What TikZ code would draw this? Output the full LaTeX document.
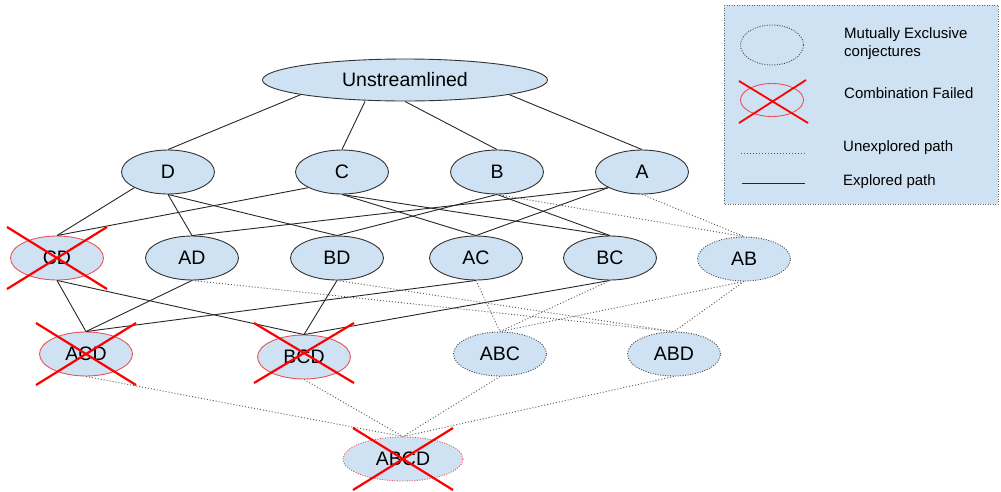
\documentclass[tikz,border=0pt]{standalone}
\usepackage{fontspec}
\setmainfont{Liberation Sans}
\usetikzlibrary{shapes.geometric}
\definecolor{setblue}{HTML}{CFE2F3}
\definecolor{failred}{HTML}{E8535A}
\begin{document}
\begin{tikzpicture}[x=1pt, y=-1pt,
  set/.style={ellipse, draw=black!80, fill=setblue, line width=0.9pt, minimum width=93pt, minimum height=44pt, inner sep=0pt, font=\fontsize{19.5}{22}\selectfont},
  open/.style={set, draw=black!70, dash pattern=on 1pt off 1.5pt},
  failed/.style={set, draw=failred},
  done/.style={black!85, line width=0.9pt},
  todo/.style={black!65, line width=0.9pt, dash pattern=on 1pt off 2pt},
  cross/.style={red, line width=2.2pt},
  legtext/.style={anchor=west, align=left, inner sep=0pt, font=\fontsize{15}{18}\selectfont}]
\useasboundingbox (0,0) rectangle (1001,491);
\node[set, minimum width=285pt, minimum height=42pt] (U) at (405,80) {Unstreamlined};
\node[set] (D) at (168,172) {D};
\node[set] (C) at (342,172) {C};
\node[set] (B) at (497,172) {B};
\node[set] (A) at (642,172) {A};
\node[failed] (CD) at (57,258) {CD};
\node[set] (AD) at (192,258) {AD};
\node[set] (BD) at (337,258) {BD};
\node[set] (AC) at (476,258) {AC};
\node[set] (BC) at (610,258) {BC};
\node[open] (AB) at (744,259) {AB};
\node[failed] (ACD) at (86,354) {ACD};
\node[failed] (BCD) at (304,357) {BCD};
\node[open] (ABC) at (500,354) {ABC};
\node[open] (ABD) at (674,354) {ABD};
\node[failed, dash pattern=on 1pt off 1.5pt, minimum width=120pt] (ABCD) at (403,459) {ABCD};
\draw[done] (U.-172) -- (D.north);
\draw[done] ([xshift=-40pt]U.south) -- (C.north);
\draw[done] (U.south) -- (B.north);
\draw[done] (U.-8) -- (A.north);
\draw[done] (D.-155) -- (CD.north);
\draw[done] (D.south) -- (AD.north);
\draw[done] (D.south) -- (BD.north);
\draw[done] (C.-155) -- (CD.north);
\draw[done] (C.south) -- (AC.north);
\draw[done] (C.south) -- (BC.north);
\draw[done] (B.south) -- (BD.north);
\draw[done] (B.south) -- (BC.north);
\draw[done] (A.-155) -- (AD.north);
\draw[done] (A.-155) -- (AC.north);
\draw[todo] (B.south) -- (AB.north);
\draw[todo] (A.south) -- (AB.north);
\draw[done] (CD.south) -- (ACD.north);
\draw[done] (AD.south) -- (ACD.north);
\draw[done] (AC.south) -- (ACD.north);
\draw[done] (CD.south) -- (BCD.north);
\draw[done] (BD.south) -- (BCD.north);
\draw[done] (BC.south) -- (BCD.north);
\draw[todo] (AC.south) -- (ABC.north);
\draw[todo] (BC.south) -- (ABC.north);
\draw[todo] (AB.south) -- (ABC.north);
\draw[todo] (AD.south) -- (ABD.north);
\draw[todo] (BD.south) -- (ABD.north);
\draw[todo] (AB.south) -- (ABD.north);
\draw[todo] (ACD.south) -- (ABCD.north);
\draw[todo] (BCD.south) -- (ABCD.north);
\draw[todo] (ABC.south) -- (ABCD.north);
\draw[todo] (ABD.south) -- (ABCD.north);
\foreach \n in {CD,ACD,ABCD} {
  \draw[cross] ([shift={(-50,-31)}]\n.center) -- ([shift={(50,31)}]\n.center);
  \draw[cross] ([shift={(-50,31)}]\n.center) -- ([shift={(50,-31)}]\n.center);
}
\draw[cross] ([shift={(-50,-34)}]BCD.center) -- ([shift={(50,26)}]BCD.center);
\draw[cross] ([shift={(-50,26)}]BCD.center) -- ([shift={(50,-34)}]BCD.center);
% legend
\draw[black!60, dash pattern=on 1pt off 1.5pt, fill=setblue] (724,5) rectangle (998,204);
\node[open, minimum width=63pt, minimum height=40pt] (lopen) at (772,45) {};
\node[failed, minimum width=63pt, minimum height=33pt] (lfail) at (772,100) {};
\draw[cross, line width=1.8pt] ([shift={(-33,-19)}]lfail.center) -- ([shift={(36,23)}]lfail.center);
\draw[cross, line width=1.8pt] ([shift={(-33,23)}]lfail.center) -- ([shift={(34,-20)}]lfail.center);
\coordinate (ua) at (741,153);
\coordinate (ub) at (806,153);
\coordinate (ea) at (742,183);
\coordinate (eb) at (805,183);
\draw[todo] (ua) -- (ub);
\draw[done] (ea) -- (eb);
\node[legtext] (lt1) at (844,44) {Mutually Exclusive\\conjectures};
\node[legtext] (lt2) at (844,93) {Combination Failed};
\node[legtext] (lt3) at (843,148) {Unexplored path};
\node[legtext] (lt4) at (843,182) {Explored path};
\end{tikzpicture}
\end{document}
